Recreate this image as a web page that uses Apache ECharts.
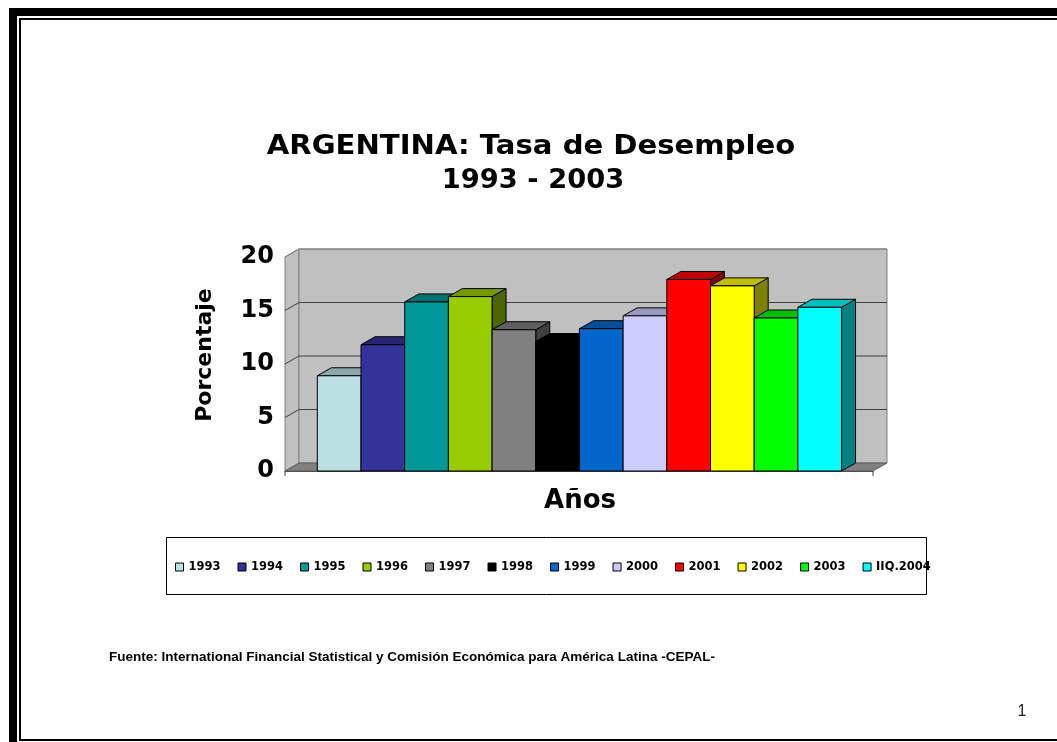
<!DOCTYPE html>
<html>
<head>
<meta charset="utf-8">
<script src="https://cdn.jsdelivr.net/npm/echarts@6/dist/echarts.min.js"></script>
<style>
  html, body { margin: 0; padding: 0; background: #ffffff; }
  #chart { width: 1057px; height: 742px; }
</style>
</head>
<body>
<div id="chart"></div>
<script>
// Unemployment rate by year (%)
const years = ['1993', '1994', '1995', '1996', '1997', '1998', '1999', '2000', '2001', '2002', '2003', 'IIQ.2004'];
const rates = [8.9, 11.8, 15.8, 16.3, 13.2, 12.1, 13.3, 14.5, 17.9, 17.3, 14.3, 15.3];
const barColors = ['#BBE0E3', '#333399', '#009999', '#99CC00', '#808080', '#000000',
                   '#0066CC', '#CCCCFF', '#FF0000', '#FFFF00', '#00FF00', '#00FFFF'];
const yMin = 0, yMax = 20, yStep = 5;
const gridValues = [5, 10, 15, 20];

// extent of the category floor in bar units (bars occupy [i, i+1])
const X_MIN = -0.74, X_MAX = 12.72;
// pixel offset of the depth (3D look)
const DX = 14, DY = 8;

function shade(hex, k) {
  const n = parseInt(hex.slice(1), 16);
  const r = Math.round(((n >> 16) & 255) * k);
  const g = Math.round(((n >> 8) & 255) * k);
  const b = Math.round((n & 255) * k);
  return 'rgb(' + r + ',' + g + ',' + b + ')';
}
const back = p => [p[0] + DX, p[1] - DY];

// walls, floor and gridlines of the 3D plot box
function renderWalls(params, api) {
  const fl = api.coord([X_MIN, yMin]);
  const fr = api.coord([X_MAX, yMin]);
  const tl = api.coord([X_MIN, yMax]);
  const tr = api.coord([X_MAX, yMax]);
  const children = [
    { type: 'polygon', shape: { points: [fl, tl, back(tl), back(fl)] },
      style: { fill: '#C0C0C0', stroke: '#808080', lineWidth: 1 } },
    { type: 'polygon', shape: { points: [back(tl), back(tr), back(fr), back(fl)] },
      style: { fill: '#C0C0C0', stroke: '#808080', lineWidth: 1 } },
    { type: 'polygon', shape: { points: [fl, back(fl), back(fr), fr] },
      style: { fill: '#808080', stroke: '#606060', lineWidth: 1 } }
  ];
  gridValues.forEach(v => {
    const a = api.coord([X_MIN, v]);
    const b = api.coord([X_MAX, v]);
    children.push({ type: 'polyline', shape: { points: [a, back(a), back(b)] },
      style: { fill: null, stroke: v === yMax ? '#808080' : '#404040', lineWidth: 1 } });
  });
  [fl, fr].forEach(p => {
    children.push({ type: 'line', shape: { x1: p[0], y1: p[1], x2: p[0], y2: p[1] + 5 },
      style: { stroke: '#404040', lineWidth: 1 } });
  });
  return { type: 'group', children: children };
}

// one 3D column: side face, top face, front face
function renderBar(params, api) {
  const i = api.value(0), v = api.value(1);
  const a = api.coord([i, 0]);
  const b = api.coord([i + 1, v]);
  const x0 = a[0], x1 = b[0], y0 = a[1], y1 = b[1];
  const c = api.visual('color');
  return {
    type: 'group',
    children: [
      { type: 'polygon', shape: { points: [[x1, y1], [x1 + DX, y1 - DY], [x1 + DX, y0 - DY], [x1, y0]] },
        style: { fill: shade(c, 0.5), stroke: '#000', lineWidth: 1 } },
      { type: 'polygon', shape: { points: [[x0, y1], [x0 + DX, y1 - DY], [x1 + DX, y1 - DY], [x1, y1]] },
        style: { fill: shade(c, 0.75), stroke: '#000', lineWidth: 1 } },
      { type: 'rect', shape: { x: x0, y: y1, width: x1 - x0, height: y0 - y1 },
        style: { fill: c, stroke: '#000', lineWidth: 1 } }
    ]
  };
}

const series = [{
  name: 'walls', type: 'custom', renderItem: renderWalls, data: [[0, 0]],
  silent: true, clip: false, z: 1
}];
years.forEach((y, i) => {
  series.push({
    name: y, type: 'custom', renderItem: renderBar,
    data: [[i, rates[i]]], encode: { x: 0, y: 1 },
    itemStyle: { color: barColors[i], borderColor: '#000', borderWidth: 1 },
    clip: false, z: 2
  });
});

const chart = echarts.init(document.getElementById('chart'), null, { renderer: 'canvas' });
chart.setOption({
  backgroundColor: '#ffffff',
  animation: false,
  grid: { left: 285, right: 184, top: 257, bottom: 271, containLabel: false },
  xAxis: {
    type: 'value', min: X_MIN, max: X_MAX,
    axisLine: { show: true, lineStyle: { color: '#404040', width: 1 } },
    axisTick: { show: false }, axisLabel: { show: false }, splitLine: { show: false }
  },
  yAxis: {
    type: 'value', min: yMin, max: yMax, interval: yStep,
    axisLine: { show: true, lineStyle: { color: '#707070', width: 1 } },
    axisTick: { show: true, length: 5, lineStyle: { color: '#404040' } },
    axisLabel: { margin: 11, color: '#000', fontFamily: 'DejaVu Sans', fontWeight: 'bold', fontSize: 24 },
    splitLine: { show: false }
  },
  legend: {
    data: years, orient: 'horizontal', left: 175, top: 561, padding: 0,
    icon: 'rect', itemWidth: 8, itemHeight: 8, itemGap: 17,
    itemStyle: { borderColor: '#000', borderWidth: 1 },
    textStyle: { color: '#000', fontFamily: 'DejaVu Sans', fontWeight: 'bold', fontSize: 11.5 }
  },
  graphic: [
    // page frame
    { type: 'rect', silent: true, shape: { x: 13, y: 12, width: 1100, height: 800 },
      style: { fill: null, stroke: '#000', lineWidth: 8 } },
    { type: 'rect', silent: true, shape: { x: 20, y: 19, width: 1100, height: 721 },
      style: { fill: null, stroke: '#000', lineWidth: 2 } },
    // legend box
    { type: 'rect', silent: true, shape: { x: 166.5, y: 537.5, width: 760, height: 57 },
      style: { fill: null, stroke: '#000', lineWidth: 1 } },
    // titles
    { type: 'text', x: 531, y: 147, scaleX: 1.12,
      style: { text: 'ARGENTINA: Tasa de Desempleo', x: 0, y: 0, align: 'center', verticalAlign: 'middle',
        font: 'bold 26px "DejaVu Sans"', fill: '#000' } },
    { type: 'text', x: 533, y: 181, scaleX: 1.05,
      style: { text: '1993 - 2003', x: 0, y: 0, align: 'center', verticalAlign: 'middle',
        font: 'bold 26px "DejaVu Sans"', fill: '#000' } },
    // axis names
    { type: 'text', x: 205, y: 355, rotation: Math.PI / 2,
      style: { text: 'Porcentaje', x: 0, y: 0, align: 'center', verticalAlign: 'middle',
        font: 'bold 22px "DejaVu Sans"', fill: '#000' } },
    { type: 'text', x: 580, y: 501,
      style: { text: 'Años', x: 0, y: 0, align: 'center', verticalAlign: 'middle',
        font: 'bold 26px "DejaVu Sans"', fill: '#000' } },
    // source note and page number
    { type: 'text', x: 109, y: 657,
      style: { text: 'Fuente: International Financial Statistical y Comisión Económica para América Latina -CEPAL-',
        x: 0, y: 0, align: 'left', verticalAlign: 'middle',
        font: 'bold 13.5px "Liberation Sans"', fill: '#000' } },
    { type: 'text', x: 1022, y: 712,
      style: { text: '1', x: 0, y: 0, align: 'center', verticalAlign: 'middle',
        font: '16px "Liberation Sans"', fill: '#222' } }
  ],
  series: series
});
</script>
</body>
</html>
